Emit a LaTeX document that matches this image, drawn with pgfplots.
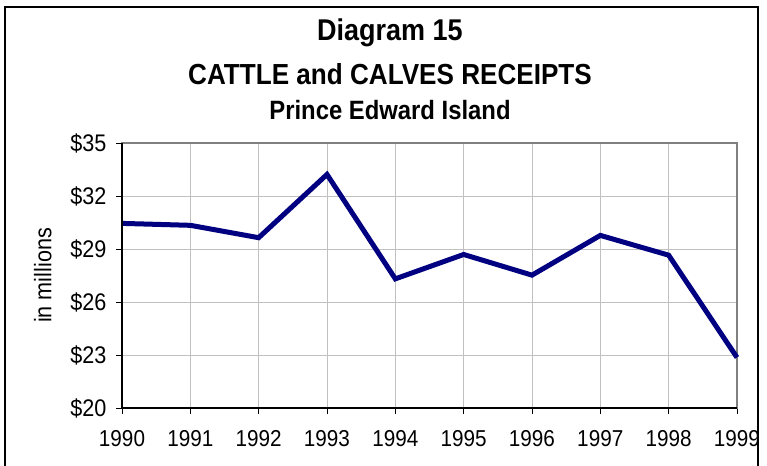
\documentclass[border=0pt]{standalone}
\usepackage{pgfplots}
\pgfplotsset{compat=1.18}
\usepackage{fontspec}
\setmainfont[FakeStretch=0.9]{Liberation Sans}
\definecolor{navyline}{RGB}{0,0,128}
\definecolor{gridgrey}{RGB}{192,192,192}
\definecolor{boxgrey}{RGB}{128,128,128}
\begin{document}
\begin{tikzpicture}
\path[use as bounding box] (0,0) rectangle (767bp,466bp);
% outer chart frame (cut off at the bottom)
\draw[black, line width=1.5bp] (5bp,0) -- (5bp,459bp) -- (758bp,459bp) -- (758bp,0);
% titles
\node[anchor=base, font=\fontsize{30bp}{32bp}\selectfont\bfseries] at (390bp,425bp) {Diagram 15};
\node[anchor=base, font=\fontsize{29bp}{31bp}\selectfont\bfseries] at (390bp,381bp) {CATTLE and CALVES RECEIPTS};
\node[anchor=base, font=\fontsize{26.5bp}{28bp}\selectfont\bfseries] at (390bp,346bp) {Prince Edward Island};
\begin{axis}[
  at={(122bp,58bp)}, anchor=south west,
  scale only axis,
  width=615bp, height=265bp,
  xmin=1990, xmax=1999,
  ymin=20, ymax=35,
  xtick={1990,...,1999},
  ytick={20,23,26,29,32,35},
  yticklabel={\$\pgfmathprintnumber{\tick}},
  /pgf/number format/1000 sep={},
  /pgf/number format/assume math mode=true,
  tick label style={font=\fontsize{23bp}{25bp}\selectfont},
  xticklabel style={yshift=-13bp},
  yticklabel style={xshift=-6bp, font=\fontsize{24bp}{26bp}\selectfont},
  tick align=outside,
  major tick length=6bp,
  tick style={black, line width=0.8bp},
  xtick pos=bottom, ytick pos=left,
  grid=major,
  major grid style={gridgrey, line width=0.8bp},
  axis line style={boxgrey, line width=1.2bp},
  ylabel={in millions},
  ylabel style={font=\fontsize{24bp}{26bp}\selectfont, yshift=12bp},
  clip=false,
]
\addplot[navyline, line width=5bp, line join=miter, mark=none] coordinates {
  (1990,30.45) (1991,30.34) (1992,29.64) (1993,33.22) (1994,27.31)
  (1995,28.69) (1996,27.52) (1997,29.77) (1998,28.65) (1999,22.86)
};
\draw[black, line width=1.4bp] (axis cs:1990,35) -- (axis cs:1990,20) -- (axis cs:1999,20);
\end{axis}
\end{tikzpicture}
\end{document}
